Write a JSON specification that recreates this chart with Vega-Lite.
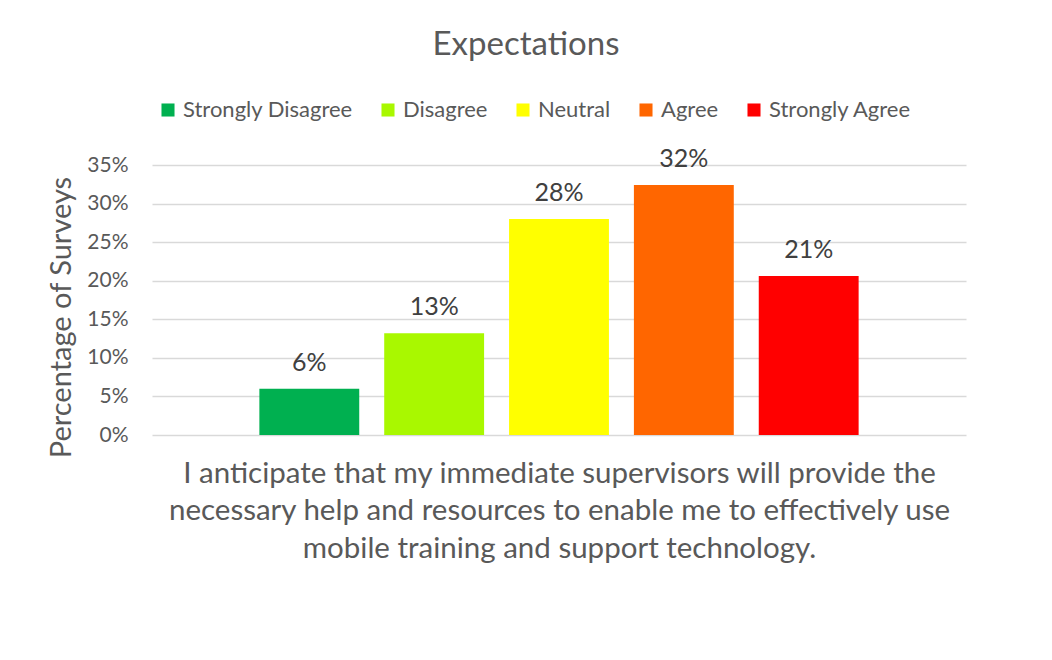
{
  "$schema": "https://vega.github.io/schema/vega-lite/v6.json",
  "width": 814,
  "height": 270,
  "autosize": {"type": "none"},
  "padding": {"left": 152, "top": 165, "right": 86, "bottom": 225},
  "background": "white",
  "title": {
    "text": "Expectations",
    "fontSize": 33,
    "font": "Lato",
    "fontWeight": "normal",
    "color": "#595959",
    "anchor": "middle",
    "dx": -33,
    "offset": 37
  },
  "data": {
    "values": [
      {"response": "Strongly Disagree", "pct": 0.06},
      {"response": "Disagree", "pct": 0.132},
      {"response": "Neutral", "pct": 0.28},
      {"response": "Agree", "pct": 0.324},
      {"response": "Strongly Agree", "pct": 0.206}
    ]
  },
  "encoding": {
    "x": {
      "field": "response",
      "type": "nominal",
      "sort": ["Strongly Disagree", "Disagree", "Neutral", "Agree", "Strongly Agree"],
      "scale": {"paddingInner": 0.2, "paddingOuter": 0.86},
      "axis": {
        "labels": false,
        "ticks": false,
        "domain": false,
        "title": [
          "I anticipate that my immediate supervisors will provide the",
          "necessary help and resources to enable me to effectively use",
          "mobile training and support technology."
        ],
        "titleFont": "Lato",
        "titleFontSize": 29.5,
        "titleFontWeight": "normal",
        "titleColor": "#595959",
        "titleLineHeight": 37.5,
        "titlePadding": 24
      }
    },
    "y": {
      "field": "pct",
      "type": "quantitative",
      "scale": {"domain": [0, 0.35]},
      "axis": {
        "values": [0, 0.05, 0.1, 0.15, 0.2, 0.25, 0.3, 0.35],
        "format": ".0%",
        "domain": false,
        "ticks": false,
        "grid": true,
        "gridColor": "#D9D9D9",
        "gridWidth": 1.3,
        "labelFont": "Lato",
        "labelFontSize": 21,
        "labelColor": "#595959",
        "labelPadding": 24,
        "title": "Percentage of Surveys",
        "titleFont": "Lato",
        "titleFontSize": 29,
        "titleFontWeight": "normal",
        "titleColor": "#595959",
        "titlePadding": 10,
        "titleY": 152
      }
    }
  },
  "layer": [
    {
      "mark": {"type": "bar"},
      "encoding": {
        "color": {
          "field": "response",
          "type": "nominal",
          "sort": ["Strongly Disagree", "Disagree", "Neutral", "Agree", "Strongly Agree"],
          "scale": {
            "domain": ["Strongly Disagree", "Disagree", "Neutral", "Agree", "Strongly Agree"],
            "range": ["#00B050", "#A9F800", "#FFFF00", "#FF6600", "#FF0000"]
          },
          "legend": {
            "title": null,
            "orient": "none",
            "direction": "horizontal",
            "legendX": 5,
            "legendY": -66,
            "symbolType": "square",
            "symbolSize": 170,
            "symbolStrokeWidth": 0,
            "symbolOpacity": 1,
            "labelFont": "Lato",
            "labelFontSize": 22,
            "labelColor": "#595959",
            "labelOffset": 4,
            "columnPadding": 24,
            "labelLimit": 300
          }
        }
      }
    },
    {
      "mark": {
        "type": "text",
        "baseline": "alphabetic",
        "dy": -18,
        "font": "Lato",
        "fontSize": 25,
        "color": "#404040"
      },
      "encoding": {
        "text": {"field": "pct", "type": "quantitative", "format": ".0%"}
      }
    }
  ],
  "config": {
    "view": {"stroke": null}
  }
}
